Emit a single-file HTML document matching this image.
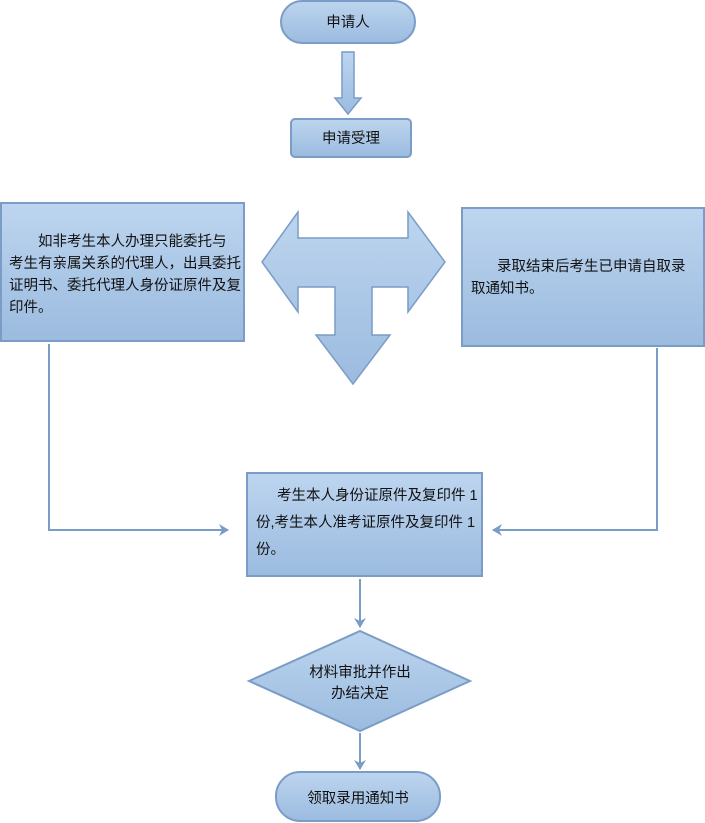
<!DOCTYPE html>
<html><head><meta charset="utf-8"><style>
html,body{margin:0;padding:0;background:#fff;}
svg{display:block;}
text{font-family:"Liberation Sans","Noto Sans CJK SC","WenQuanYi Zen Hei",sans-serif;font-size:14.5px;fill:#111;}
</style></head><body>
<svg width="705" height="823" viewBox="0 0 705 823" xmlns="http://www.w3.org/2000/svg">
<defs>
<linearGradient id="g" x1="0" y1="0" x2="0" y2="1">
<stop offset="0" stop-color="#bdd5ef"/><stop offset="1" stop-color="#9bbbdf"/>
</linearGradient>
<marker id="a" markerWidth="12" markerHeight="12" refX="9" refY="6" orient="auto" markerUnits="userSpaceOnUse">
<path d="M0,0 L10,6 L0,12 L3,6 Z" fill="#7a9cc6"/>
</marker>
</defs>
<g stroke="#7a9cc6" stroke-width="2" fill="url(#g)">
<rect x="281" y="1" width="134" height="42" rx="21"/>
<path d="M342,52 H354 V98 H361 L348,114 L335,98 H342 Z" stroke-width="1.5"/>
<rect x="291" y="119" width="120" height="38" rx="4"/>
<rect x="1" y="203" width="243" height="138"/>
<rect x="462" y="208" width="242" height="138"/>
<path d="M262,262 L298,212 V238 H408 V212 L445,262 L408,312 V287 H372 V335 H390 L353,384 L316,335 H335 V287 H298 V312 Z" stroke-width="1.5"/>
<rect x="247" y="473" width="235" height="103"/>
<path d="M360,631 L470,681 L360,731 L249,681 Z"/>
<rect x="276" y="772" width="164" height="49" rx="24"/>
</g>
<g stroke="#7a9cc6" stroke-width="2" fill="none">
<path d="M49,344 V530 H228" marker-end="url(#a)"/>
<path d="M657,348 V530 H493" marker-end="url(#a)"/>
<path d="M360,579 V627" marker-end="url(#a)"/>
<path d="M360,733 V769" marker-end="url(#a)"/>
</g>
<text x="348" y="27" text-anchor="middle">申请人</text>
<text x="351" y="143" text-anchor="middle">申请受理</text>
<text x="38" y="246">如非考生本人办理只能委托与</text>
<text x="9" y="268">考生有亲属关系的代理人，出具委托</text>
<text x="9" y="290">证明书、委托代理人身份证原件及复</text>
<text x="9" y="312">印件。</text>
<text x="497" y="271">录取结束后考生已申请自取录</text>
<text x="471" y="293">取通知书。</text>
<text x="277" y="500">考生本人身份证原件及复印件 1</text>
<text x="256" y="527">份,考生本人准考证原件及复印件 1</text>
<text x="256" y="554">份。</text>
<text x="360" y="677" text-anchor="middle">材料审批并作出</text>
<text x="360" y="698" text-anchor="middle">办结决定</text>
<text x="358" y="803" text-anchor="middle">领取录用通知书</text>
</svg>
</body></html>
